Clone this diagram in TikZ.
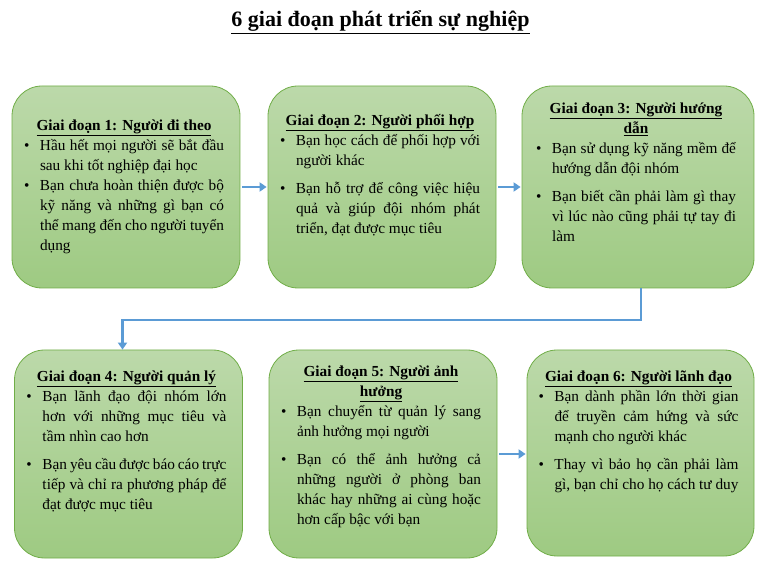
\documentclass[tikz,border=0pt]{standalone}
\usepackage{fontspec}
\setmainfont{Liberation Serif}
\usetikzlibrary{arrows.meta}
\definecolor{gtop}{HTML}{BCD9AA}
\definecolor{gbot}{HTML}{9ECA82}
\definecolor{gline}{HTML}{70AD47}
\definecolor{ablue}{HTML}{5B9BD5}
\newcommand{\itm}[1]{\par\noindent\hangindent=16pt\hangafter=1\hbox to 16pt{\textbullet\hfil}#1\par}
\newcommand{\gap}{\vspace{8pt}}
\newcommand{\hdr}[1]{{\centering\bfseries #1\par}}
\tikzset{
 box/.style={draw=gline,line width=0.8pt,rounded corners=30pt,top color=gtop,bottom color=gbot,minimum width=228pt,minimum height=202pt},
 txt/.style={anchor=north,text width=200pt,font=\fontsize{15.3}{20}\selectfont,align=justify,inner sep=0pt,execute at begin node={\hyphenpenalty=10000\tolerance=9999\emergencystretch=20pt}},
 arr/.style={draw=ablue,line width=2.2pt,-{Triangle[length=7pt,width=9pt]}}
}
\begin{document}
\begin{tikzpicture}[x=1pt,y=-1pt]
\useasboundingbox (0,0) rectangle (761,569);
\node[font=\fontsize{22}{26}\selectfont\bfseries] (title) at (380.5,22) {\underline{6 giai đoạn phát triển sự nghiệp}};
\node[box] (b1) at (126,187) {};
\node[box] (b2) at (382,187) {};
\node[box,minimum width=232pt] (b3) at (638,187) {};
\node[box,minimum height=208pt] (b4) at (128.5,454) {};
\node[box,minimum height=208pt] (b5) at (383,454) {};
\node[box,minimum width=227pt,minimum height=206pt] (b6) at (640.5,453) {};
\node[txt] (t1) at (124,120) {\hdr{\underline{Giai đoạn 1: Người đi theo}}
\itm{Hầu hết mọi người sẽ bắt đầu sau khi tốt nghiệp đại học}
\itm{Bạn chưa hoàn thiện được bộ kỹ năng và những gì bạn có thể mang đến cho người tuyển dụng}};
\node[txt] (t2) at (380,114) {\hdr{\underline{Giai đoạn 2: Người phối hợp}}
\itm{Bạn học cách để phối hợp với người khác}\gap
\itm{Bạn hỗ trợ để công việc hiệu quả và giúp đội nhóm phát triển, đạt được mục tiêu}};
\node[txt] (t3) at (636,103) {\hdr{\underline{Giai đoạn 3: Người hướng}\\\underline{dẫn}}
\itm{Bạn sử dụng kỹ năng mềm để hướng dẫn đội nhóm}\gap
\itm{Bạn biết cần phải làm gì thay vì lúc nào cũng phải tự tay đi làm}};
\node[txt] (t4) at (126.5,371) {\hdr{\underline{Giai đoạn 4: Người quản lý}}
\itm{Bạn lãnh đạo đội nhóm lớn hơn với những mục tiêu và tầm nhìn cao hơn}\gap
\itm{Bạn yêu cầu được báo cáo trực tiếp và chỉ ra phương pháp để đạt được mục tiêu}};
\node[txt] (t5) at (381,366) {\hdr{\underline{Giai đoạn 5: Người ảnh}\\\underline{hưởng}}
\itm{Bạn chuyển từ quản lý sang ảnh hưởng mọi người}\gap
\itm{Bạn có thể ảnh hưởng cả những người ở phòng ban khác hay những ai cùng hoặc hơn cấp bậc với bạn}};
\node[txt] (t6) at (638.5,371) {\hdr{\underline{Giai đoạn 6: Người lãnh đạo}}
\itm{Bạn dành phần lớn thời gian để truyền cảm hứng và sức mạnh cho người khác}\gap
\itm{Thay vì bảo họ cần phải làm gì, bạn chỉ cho họ cách tư duy}};
\draw[arr] ([xshift=2pt]b1.east) -- ([xshift=-1pt]b1.east -| b2.west);
\draw[arr] ([xshift=2pt]b2.east) -- ([xshift=-1pt]b2.east -| b3.west);
\draw[arr] ([xshift=3pt]b3.south) -- ++(0,32) -| ([xshift=-6pt]b4.north);
\draw[arr] ([xshift=2pt]b5.east) -- ([xshift=-1pt]b5.east -| b6.west);
\end{tikzpicture}
\end{document}
